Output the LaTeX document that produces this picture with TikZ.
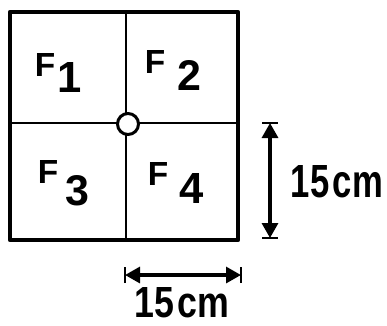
\documentclass[tikz,border=0pt]{standalone}
\usepackage{fontspec}
\setmainfont{Liberation Sans}
\usetikzlibrary{arrows.meta}
\tikzset{
  frame/.style={line width=4.5pt},
  divider/.style={line width=2.4pt},
  dimline/.style={line width=3.2pt,{Triangle[length=15pt,width=16pt]}-{Triangle[length=15pt,width=16pt]}},
  dimbar/.style={line width=2.6pt},
  flabel/.style={anchor=base west,inner sep=0pt},
  dimtext/.style={anchor=base,inner sep=0pt}
}
% #1 gap, #2 drop, #3 digit
\newcommand{\flab}[3]{\resizebox{!}{23pt}{\bfseries F}\hspace{#1pt}\raisebox{-#2pt}{\resizebox{!}{30pt}{\bfseries #3}}}
\newcommand{\dimt}[2]{\resizebox{#1pt}{#2pt}{\bfseries 15\kern1pt cm}}
\begin{document}
\begin{tikzpicture}[x=1pt,y=-1pt]
\useasboundingbox (0,0) rectangle (387,325);
% frame corners
\coordinate (tl) at (10,12);
\coordinate (br) at (238,240);
\coordinate (vt) at (126,12);
\coordinate (vb) at (126,240);
\coordinate (hl) at (10,123);
\coordinate (hr) at (238,123);
\draw[divider] (vt) -- (vb);
\draw[divider] (hl) -- (hr);
\draw[frame,line join=round] (tl) rectangle (br);
\node[circle,draw,line width=3pt,fill=white,minimum size=21pt,inner sep=0pt] (c) at (128,124) {};
% labels
\node[flabel] (f1) at (34.6,76) {\flab{2}{16}{1}};
\node[flabel] (f2) at (144.6,73) {\flab{12}{17}{2}};
\node[flabel] (f3) at (37.6,183) {\flab{7.5}{22}{3}};
\node[flabel] (f4) at (147.6,185) {\flab{11}{18}{4}};
% vertical dimension
\coordinate (va) at (270,123);
\coordinate (vz) at (270,238);
\draw[dimline] (va) -- (vz);
\draw[dimbar] ([xshift=-8pt]va) -- ([xshift=8pt]va);
\draw[dimbar] ([xshift=-8pt]vz) -- ([xshift=8pt]vz);
\node[dimtext] (tv) at (337,197) {\dimt{92}{32}};
% horizontal dimension
\coordinate (ha) at (125,275);
\coordinate (hz) at (241,275);
\draw[dimline] (ha) -- (hz);
\draw[dimbar] ([yshift=-8pt]ha) -- ([yshift=8pt]ha);
\draw[dimbar] ([yshift=-8pt]hz) -- ([yshift=8pt]hz);
\node[dimtext] (th) at (182,317) {\dimt{95}{30}};
\end{tikzpicture}
\end{document}
